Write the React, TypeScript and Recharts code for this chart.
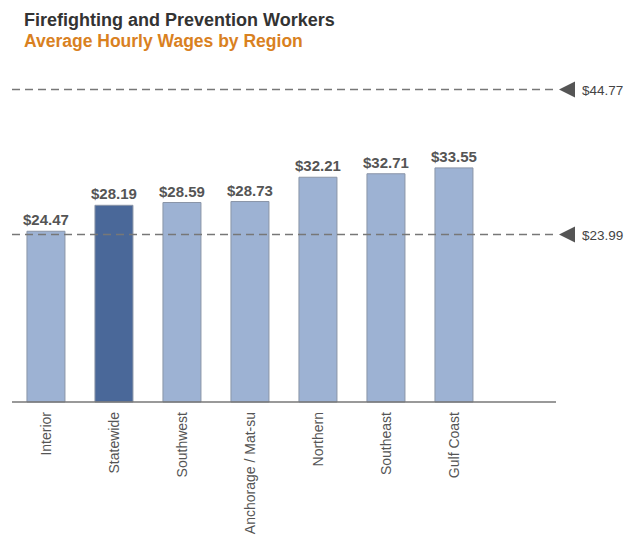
import React from "react";
import { BarChart, Bar, XAxis, YAxis, ReferenceLine, Cell, LabelList } from "recharts";

const regions = ["Interior", "Statewide", "Southwest", "Anchorage / Mat-su", "Northern", "Southeast", "Gulf Coast", ""];
const wages: (number | null)[] = [24.47, 28.19, 28.59, 28.73, 32.21, 32.71, 33.55, null];
const highlight = [false, true, false, false, false, false, false, false];
const refValues = [44.77, 23.99];
const refLabels = ["$44.77", "$23.99"];

const data = regions.map((r, i) => ({ region: r, wage: wages[i], hl: highlight[i] }));

const FONT = "Liberation Sans, Arial, sans-serif";

const RefLabel = (props: any) => {
  const { viewBox, text } = props;
  const x = viewBox.x + viewBox.width;
  const y = viewBox.y;
  return (
    <g>
      <polygon points={`${x + 3},${y} ${x + 19},${y - 8} ${x + 19},${y + 8}`} fill="#555" />
      <text x={x + 26} y={y + 5} fontSize={13.5} fill="#444" fontFamily={FONT}>
        {text}
      </text>
    </g>
  );
};

const CatTick = (props: any) => {
  const { x, y, payload } = props;
  return (
    <text
      x={x}
      y={y}
      transform={`rotate(-90 ${x} ${y}) translate(-2 5)`}
      textAnchor="end"
      fontSize={14}
      fill="#555"
      fontFamily={FONT}
    >
      {payload.value}
    </text>
  );
};

export default function App() {
  return (
    <div style={{ position: "absolute", left: 0, top: 0, width: 637, height: 540, background: "#fff" }}>
      <div
        style={{
          position: "absolute",
          left: 24,
          top: 10,
          fontFamily: FONT,
          fontWeight: "bold",
          lineHeight: "21px",
          whiteSpace: "nowrap",
        }}
      >
        <div style={{ color: "#333", fontSize: 18 }}>Firefighting and Prevention Workers</div>
        <div style={{ color: "#d9811f", fontSize: 17.5 }}>Average Hourly Wages by Region</div>
      </div>
      <BarChart
        width={637}
        height={540}
        data={data}
        margin={{ top: 88, right: 81, bottom: 0, left: 12 }}
        barCategoryGap="22%"
      >
        <XAxis
          dataKey="region"
          axisLine={{ stroke: "#777", strokeWidth: 1.5 }}
          tickLine={false}
          interval={0}
          tick={<CatTick />}
          height={138}
        />
        <YAxis hide domain={[0, 45]} />
        <Bar dataKey="wage" isAnimationActive={false} stroke="#8a95a8" strokeWidth={1}>
          {data.map((d, i) => (
            <Cell key={i} fill={d.hl ? "#4a6899" : "#9db2d3"} />
          ))}
          <LabelList
            dataKey="wage"
            position="top"
            offset={6}
            formatter={(v: any) => (v == null ? "" : `$${Number(v).toFixed(2)}`)}
            style={{ fontSize: 15, fontWeight: "bold", fill: "#555", fontFamily: FONT }}
          />
        </Bar>
        {refValues.map((v, i) => (
          <ReferenceLine
            key={i}
            y={v}
            stroke="#777"
            strokeWidth={1.5}
            strokeDasharray="8 5"
            label={<RefLabel text={refLabels[i]} />}
          />
        ))}
      </BarChart>
    </div>
  );
}
